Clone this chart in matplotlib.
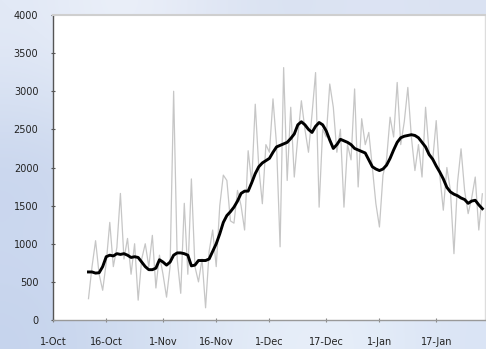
import numpy as np
import pandas as pd
import matplotlib
matplotlib.use("Agg")
import matplotlib.pyplot as plt

# ---- data ----
start_date = "2009-10-11"
daily = [280, 700, 1040, 600, 390, 750, 1280, 700, 950, 1660,
         800, 1070, 600, 1000, 260, 800, 1000, 700, 1110, 420,
         850, 600, 300, 700, 3000, 800, 350, 1530, 600, 1850,
         700, 500, 800, 160, 900, 1180, 700, 1500, 1900, 1830,
         1300, 1270, 1700, 1500, 1180, 2220, 1800, 2830, 2000, 1525,
         2300, 2200, 2900, 2300, 960, 3310, 1830, 2790, 1875, 2400,
         2875, 2500, 2200, 2700, 3245, 1480, 2500, 2400, 3095, 2790,
         2200, 2500, 1480, 2300, 2100, 3030, 1745, 2640, 2300, 2460,
         2000, 1525, 1220, 1900, 2100, 2660, 2400, 3115, 2300, 2600,
         3050, 2400, 1960, 2300, 1875, 2790, 2200, 2090, 2615, 1900,
         1440, 2000, 1700, 870, 1800, 2245, 1700, 1395, 1600, 1875,
         1180, 1655]
moving_avg = [630, 630, 615, 620, 700, 830, 850, 840, 870, 860,
              870, 850, 820, 830, 820, 760, 700, 660, 660, 680,
              790, 760, 720, 760, 850, 880, 880, 870, 850, 710,
              720, 780, 780, 780, 800, 900, 1000, 1130, 1280, 1370,
              1420, 1480, 1560, 1660, 1690, 1690, 1800, 1920, 2010, 2060,
              2090, 2120, 2200, 2270, 2290, 2310, 2330, 2380, 2440, 2560,
              2600, 2560, 2500, 2460, 2540, 2590, 2560, 2480, 2360, 2250,
              2300, 2370, 2350, 2330, 2300, 2250, 2230, 2210, 2190, 2100,
              2010, 1980, 1960, 1980, 2030, 2120, 2230, 2330, 2390, 2410,
              2420, 2430, 2420, 2390, 2330, 2270, 2170, 2110, 2020, 1940,
              1850, 1740, 1680, 1650, 1630, 1600, 1580, 1530, 1560, 1570,
              1510, 1460]
tick_dates = ["2009-10-01", "2009-10-16", "2009-11-01", "2009-11-16",
              "2009-12-01", "2009-12-17", "2010-01-01", "2010-01-17"]
tick_labels = ["1-Oct", "16-Oct", "1-Nov", "16-Nov", "1-Dec", "17-Dec", "1-Jan", "17-Jan"]
y_ticks = [0, 500, 1000, 1500, 2000, 2500, 3000, 3500, 4000]

dates = pd.date_range(start_date, periods=len(daily), freq="D")

fig = plt.figure(figsize=(4.86, 3.49), dpi=100)

# background gradient
bg = fig.add_axes([0, 0, 1, 1], zorder=-10)
grid = np.array([
    [(226, 233, 246), (238, 242, 250), (226, 232, 245), (216, 225, 241), (222, 229, 244), (218, 226, 242)],
    [(214, 224, 242), (222, 230, 245), (222, 230, 245), (222, 230, 245), (222, 230, 245), (222, 230, 245)],
    [(200, 213, 237), (210, 220, 240), (215, 225, 242), (215, 225, 242), (215, 225, 242), (215, 225, 242)],
    [(204, 216, 239), (210, 221, 241), (218, 228, 244), (224, 232, 246), (226, 234, 247), (220, 229, 245)],
    [(198, 212, 237), (208, 220, 240), (220, 230, 245), (232, 239, 249), (230, 238, 249), (218, 228, 245)],
], dtype=float) / 255.0
bg.imshow(grid, extent=[0, 1, 0, 1], aspect="auto", interpolation="bicubic")
bg.set_xlim(0, 1)
bg.set_ylim(0, 1)
bg.axis("off")

ax = fig.add_axes([53 / 486, 1 - 320 / 349, (485 - 53) / 486, (320 - 15) / 349])
ax.set_facecolor("white")

ax.plot(dates, daily, color="#c6c6c6", lw=0.9, zorder=2)
ax.plot(dates, moving_avg, color="black", lw=2.1, zorder=3, solid_joinstyle="round")

ax.set_ylim(0, 4000)
ax.set_xlim(pd.Timestamp("2009-10-01"), pd.Timestamp("2010-01-31") - pd.Timedelta(hours=6))
ax.set_yticks(y_ticks)
ax.set_yticklabels([str(v) for v in y_ticks])
ax.set_xticks(pd.to_datetime(tick_dates))
ax.set_xticklabels(tick_labels)

ax.tick_params(axis="y", direction="inout", length=3, width=0.8, color="#555555",
               labelsize=7, pad=9, labelcolor="#222222")
ax.tick_params(axis="x", direction="inout", length=3, width=0.8, color="#888888",
               labelsize=7, pad=11, labelcolor="#222222")

ax.spines["left"].set_color("#555555")
ax.spines["left"].set_linewidth(1.0)
ax.spines["bottom"].set_color("#999999")
ax.spines["bottom"].set_linewidth(1.0)
ax.spines["top"].set_color("#cfcfcf")
ax.spines["top"].set_linewidth(1.5)
ax.spines["right"].set_color("#dddddd")
ax.spines["right"].set_linewidth(1.0)

fig.savefig("out.png", dpi=100)
